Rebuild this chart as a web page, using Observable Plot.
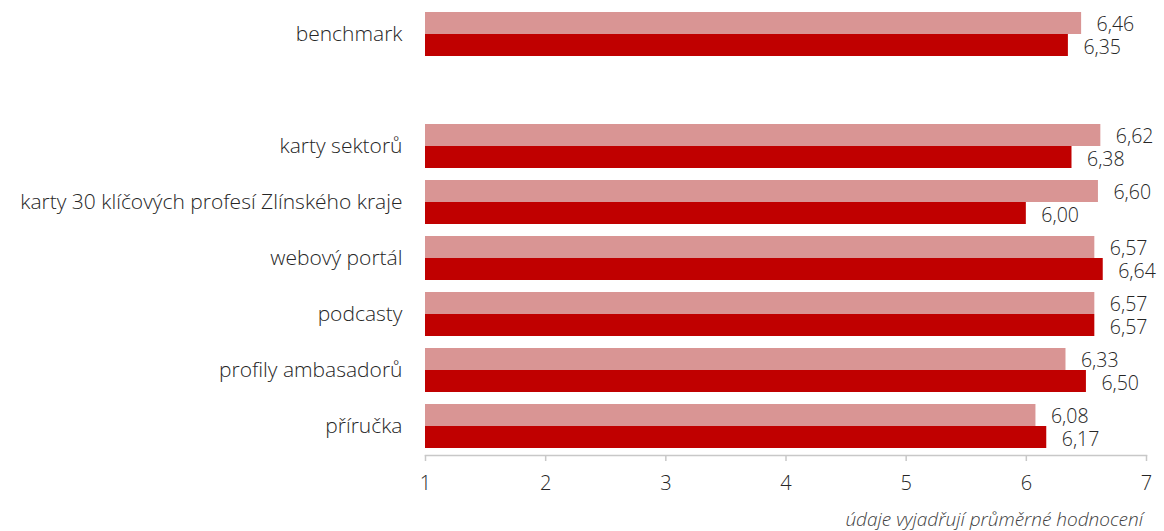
<!DOCTYPE html>
<html><head><meta charset="utf-8">
<script src="https://cdn.jsdelivr.net/npm/d3@7"></script>
<script src="https://cdn.jsdelivr.net/npm/@observablehq/plot@0.6"></script>
<style>
body{margin:0;background:#fff;font-family:"Open Sans",sans-serif;}
#caption{width:1164px;text-align:right;font-style:italic;font-weight:300;font-size:19px;color:#404040;box-sizing:border-box;padding-right:21px;line-height:22px;}
</style></head><body>
<div id="chart"></div><div id="caption">údaje vyjadřují průměrné hodnocení</div>
<script>
const categories = ["benchmark", "karty sektorů", "karty 30 klíčových profesí Zlínského kraje", "webový portál", "podcasty", "profily ambasadorů", "příručka"];
const seriesLight = [6.46, 6.62, 6.60, 6.57, 6.57, 6.33, 6.08];
const seriesDark = [6.35, 6.38, 6.00, 6.64, 6.57, 6.50, 6.17];
const xTicks = [1, 2, 3, 4, 5, 6, 7];
const spacer = " ";
const yDomain = [categories[0], spacer, ...categories.slice(1)];
const rowsLight = categories.map((c, i) => ({cat: c, value: seriesLight[i]}));
const rowsDark = categories.map((c, i) => ({cat: c, value: seriesDark[i]}));
const fmt = v => v.toFixed(2).replace(".", ",");
const plot = Plot.plot({
  width: 1164, height: 508,
  marginLeft: 425, marginRight: 18, marginTop: 5, marginBottom: 53,
  x: {domain: [1, 7]},
  y: {domain: yDomain, paddingInner: 0.2143, paddingOuter: 0.125},
  style: {fontFamily: "Open Sans", fontWeight: 300, color: "#404040", background: "#fff"},
  marks: [
    Plot.barX(rowsLight, {x1: 1, x2: "value", y: "cat", fill: "#D99594", insetBottom: 22}),
    Plot.barX(rowsDark, {x1: 1, x2: "value", y: "cat", fill: "#C00000", insetTop: 22}),
    Plot.text(rowsLight, {x: "value", y: "cat", text: d => fmt(d.value), dx: 15, dy: -10, textAnchor: "start", fontSize: 19.5, fontWeight: 300, fill: "#262626"}),
    Plot.text(rowsDark, {x: "value", y: "cat", text: d => fmt(d.value), dx: 15, dy: 13, textAnchor: "start", fontSize: 19.5, fontWeight: 300, fill: "#262626"}),
    Plot.frame({anchor: "bottom", stroke: "#c8c8c8", strokeWidth: 1.5}),
    Plot.axisX(xTicks, {tickSize: 6, tickPadding: 14, tickFormat: d => String(d), stroke: "#c8c8c8", strokeWidth: 1.5, fontSize: 20, fontWeight: 300, fill: "#262626", label: null}),
    Plot.axisY({tickSize: 0, tickPadding: 23, fontSize: 21, fontWeight: 300, fill: "#262626", label: null})
  ]
});
document.getElementById("chart").appendChild(plot);
</script>
</body></html>
